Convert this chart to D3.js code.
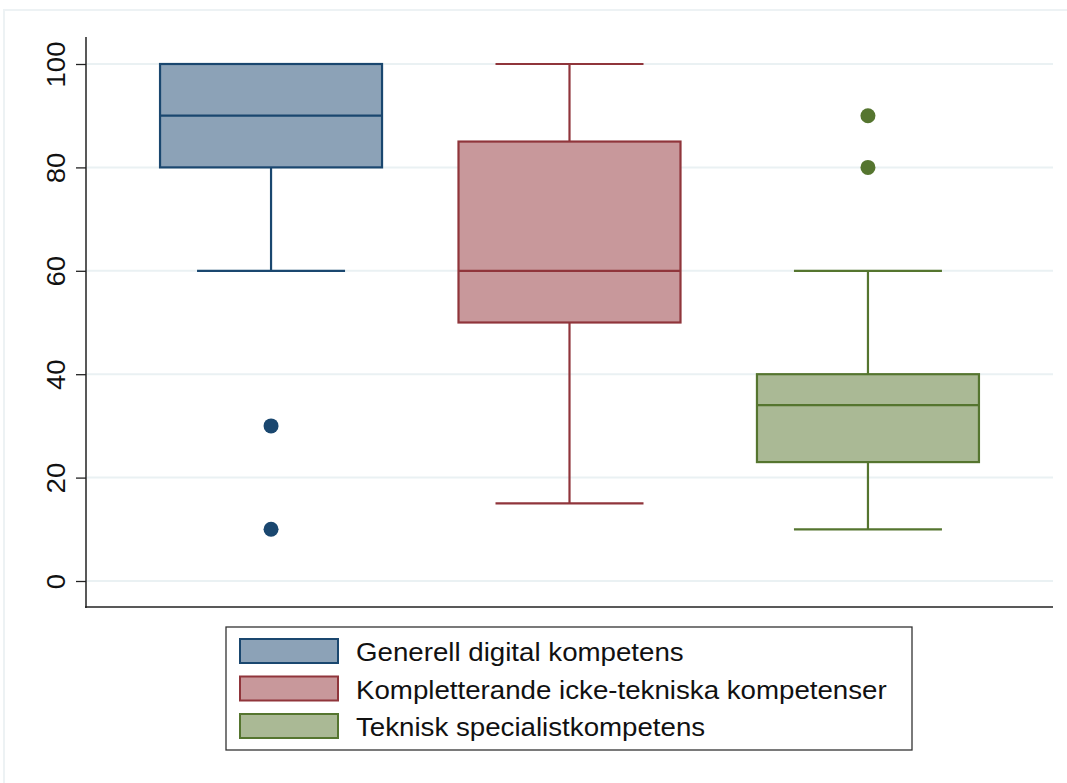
<!DOCTYPE html>
<html>
<head>
<meta charset="utf-8">
<script src="https://cdn.jsdelivr.net/npm/d3@7"></script>
<style>
  body { margin: 0; background: #fff; }
  text { font-family: "Liberation Sans", Arial, sans-serif; }
</style>
</head>
<body>
<script>
var categories = ['Generell digital kompetens', 'Kompletterande icke-tekniska kompetenser', 'Teknisk specialistkompetens'];
var q1 = [80, 50, 23];
var medians = [90, 60, 34];
var q3 = [100, 85, 40];
var whiskerLow = [60, 15, 10];
var whiskerHigh = [100, 100, 60];
var outliers = [[30, 10], [], [90, 80]];
var yTicks = [0, 20, 40, 60, 80, 100];
var fills = ['#8ca2b7', '#c8989b', '#aab995'];
var strokes = ['#1a476f', '#90353b', '#55752f'];

var width = 1067, height = 783;
var svg = d3.select('body').append('svg').attr('width', width).attr('height', height);

// faint outer graph region border
svg.append('rect').attr('x', 4).attr('y', 10).attr('width', width + 10).attr('height', height + 10)
    .attr('fill', 'none').attr('stroke', '#edf2f4').attr('stroke-width', 2);

var y = d3.scaleLinear().domain([0, 100]).range([581, 64]);
var x = d3.scalePoint().domain(categories).range([86, 1053]).padding(0.62);
var boxW = 222, capW = 148;

// gridlines
svg.append('g').selectAll('line').data(yTicks).enter().append('line')
    .attr('x1', 87).attr('x2', 1053)
    .attr('y1', function(d) { return y(d); }).attr('y2', function(d) { return y(d); })
    .attr('stroke', '#eaf1f3').attr('stroke-width', 2);

// y axis
var yAxis = svg.append('g').attr('transform', 'translate(86,0)')
    .call(d3.axisLeft(y).tickValues(yTicks).tickSize(10).tickPadding(0));
yAxis.select('.domain').remove();
yAxis.selectAll('line').attr('stroke', '#222').attr('stroke-width', 1.3);
yAxis.selectAll('text').remove();
yAxis.selectAll('.tick').append('text')
    .attr('transform', 'translate(-21,0) rotate(-90) scale(1.06,1)')
    .attr('text-anchor', 'middle').attr('fill', '#111')
    .style('font-size', '26px').text(function(d) { return d; });

svg.append('line').attr('x1', 86).attr('x2', 86).attr('y1', 37).attr('y2', 608)
    .attr('stroke', '#222').attr('stroke-width', 1.5);
svg.append('line').attr('x1', 85).attr('x2', 1053).attr('y1', 607).attr('y2', 607)
    .attr('stroke', '#222').attr('stroke-width', 1.5);

// boxes
var boxes = svg.append('g').selectAll('g').data(categories).enter().append('g');
boxes.each(function(c, i) {
    var g = d3.select(this), cx = x(c);
    g.append('line').attr('x1', cx).attr('x2', cx).attr('y1', y(whiskerLow[i])).attr('y2', y(q1[i]))
        .attr('stroke', strokes[i]).attr('stroke-width', 2.2);
    g.append('line').attr('x1', cx).attr('x2', cx).attr('y1', y(whiskerHigh[i])).attr('y2', y(q3[i]))
        .attr('stroke', strokes[i]).attr('stroke-width', 2.2);
    [whiskerLow[i], whiskerHigh[i]].forEach(function(v) {
        g.append('line').attr('x1', cx - capW / 2).attr('x2', cx + capW / 2).attr('y1', y(v)).attr('y2', y(v))
            .attr('stroke', strokes[i]).attr('stroke-width', 2.2);
    });
    g.append('rect').attr('x', cx - boxW / 2).attr('width', boxW)
        .attr('y', y(q3[i])).attr('height', y(q1[i]) - y(q3[i]))
        .attr('fill', fills[i]).attr('stroke', strokes[i]).attr('stroke-width', 2.2);
    g.append('line').attr('x1', cx - boxW / 2).attr('x2', cx + boxW / 2).attr('y1', y(medians[i])).attr('y2', y(medians[i]))
        .attr('stroke', strokes[i]).attr('stroke-width', 2.2);
    g.selectAll('circle').data(outliers[i]).enter().append('circle')
        .attr('cx', cx).attr('cy', function(d) { return y(d); }).attr('r', 7.5)
        .attr('fill', strokes[i]);
});

// legend
var legend = svg.append('g');
legend.append('rect').attr('x', 226).attr('y', 627).attr('width', 686).attr('height', 123)
    .attr('fill', '#fff').attr('stroke', '#333').attr('stroke-width', 1.3);
var items = legend.selectAll('g.item').data(categories).enter().append('g')
    .attr('transform', function(d, i) { return 'translate(0,' + (639 + i * 37.5) + ')'; });
items.append('rect').attr('x', 240).attr('y', 0).attr('width', 98).attr('height', 24)
    .attr('fill', function(d, i) { return fills[i]; })
    .attr('stroke', function(d, i) { return strokes[i]; }).attr('stroke-width', 2);
items.append('text').attr('transform', 'translate(356,22) scale(1.065,1)').attr('fill', '#111')
    .style('font-size', '26px').text(function(d) { return d; });
</script>
</body>
</html>
